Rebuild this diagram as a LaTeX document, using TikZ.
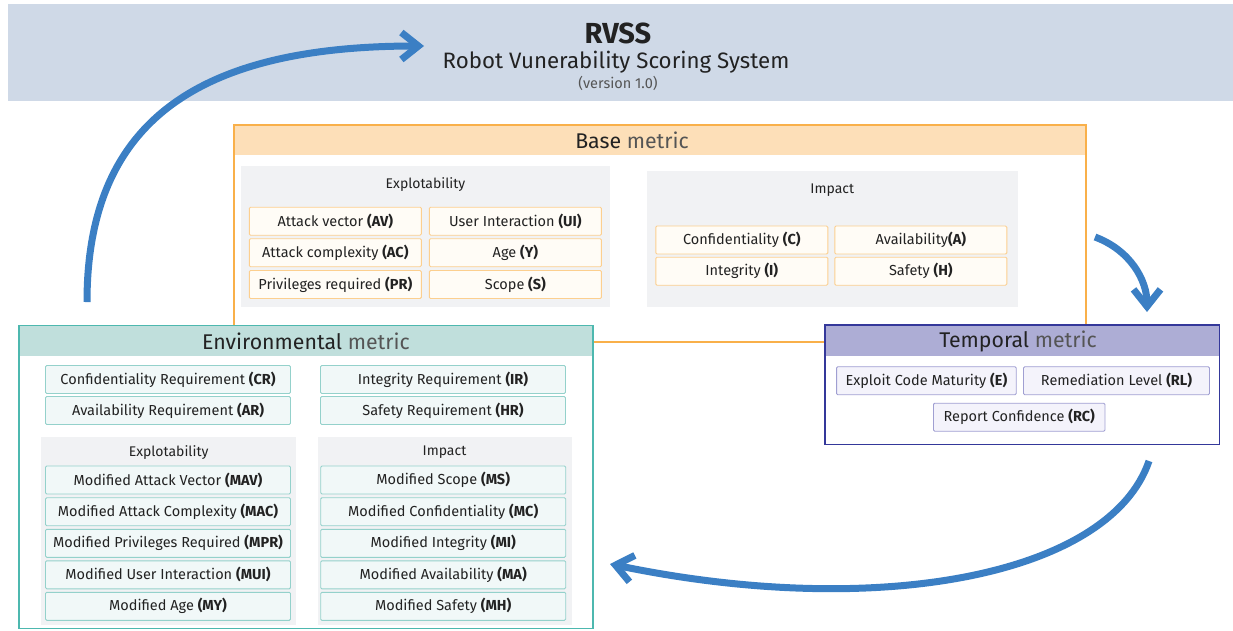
\documentclass[tikz,border=0pt]{standalone}
\usepackage{fontspec}
\setmainfont{Fira Sans}
\usetikzlibrary{arrows.meta}
\definecolor{bandc}{HTML}{CFD9E7}
\definecolor{txt}{HTML}{222222}
\definecolor{mtxt}{HTML}{555555}
\definecolor{panelc}{HTML}{F1F2F4}
\definecolor{bbord}{HTML}{F9B04A}
\definecolor{bhead}{HTML}{FDDFB8}
\definecolor{bcellf}{HTML}{FFFCF6}
\definecolor{bcellb}{HTML}{FCCF8F}
\definecolor{ebord}{HTML}{4DB8AF}
\definecolor{ehead}{HTML}{C0DFDC}
\definecolor{ecellf}{HTML}{F1F8F8}
\definecolor{ecellb}{HTML}{94D1CB}
\definecolor{tbord}{HTML}{34389A}
\definecolor{thead}{HTML}{ADADD5}
\definecolor{tcellf}{HTML}{F4F3FB}
\definecolor{tcellb}{HTML}{A09FD2}
\definecolor{arrowc}{HTML}{3B7FC4}
\begin{document}
\begin{tikzpicture}[x=1pt,y=-1pt,
  every node/.style={inner sep=0pt, outer sep=0pt, text=txt},
  cellbase/.style={line width=0.9pt, rounded corners=1.2pt, minimum height=28pt, font=\fontsize{14.5}{16}\selectfont},
  bcell/.style={cellbase, draw=bcellb, fill=bcellf, minimum width=172pt},
  ecell/.style={cellbase, draw=ecellb, fill=ecellf, minimum width=245pt},
  tcell/.style={cellbase, draw=tcellb, fill=tcellf},
  panel/.style={fill=panelc, draw=none},
  plabel/.style={font=\fontsize{14}{16}\selectfont},
  headtxt/.style={font=\fontsize{21.3}{24}\selectfont},
  bigarrow/.style={draw=arrowc, line width=7pt, -{Straight Barb[length=17pt,width=27pt]}}
]
\useasboundingbox (0,0) rectangle (1233,630);

% title band
\node[fill=bandc, minimum width=1225pt, minimum height=97pt] (band) at (620.5,52.5) {};
\node[font=\fontsize{29}{32}\selectfont\bfseries] (t1) at (618,33) {RVSS};
\node[font=\fontsize{22.3}{25}\selectfont] (t2) at (616,62) {Robot Vunerability Scoring System};
\node[font=\fontsize{14.5}{16}\selectfont, text=mtxt] (t3) at (618,83) {(version 1.0)};

% base metric
\node[draw=bbord, line width=1.5pt, minimum width=852pt, minimum height=217pt] (base) at (660,233.5) {};
\node[fill=bhead, minimum width=850.5pt, minimum height=29pt] (basehd) at (660,140) {};
\node[headtxt] (basettl) at (632,140) {Base \textcolor{mtxt}{metric}};

\node[panel, minimum width=369pt, minimum height=141pt] (bexp) at (425.5,236.5) {};
\node[plabel] (bexpl) at (425.5,185) {Explotability};
\node[bcell] (av) at (335.3,221.2) {Attack vector \textbf{(AV)}};
\node[bcell] (ac) at (335.3,252.7) {Attack complexity \textbf{(AC)}};
\node[bcell] (pr) at (335.3,284.5) {Privileges required \textbf{(PR)}};
\node[bcell] (ui) at (515.4,221.2) {User Interaction \textbf{(UI)}};
\node[bcell] (age) at (515.4,252.7) {Age \textbf{(Y)}};
\node[bcell] (sc) at (515.4,284.5) {Scope \textbf{(S)}};

\node[panel, minimum width=371.5pt, minimum height=136pt] (bimp) at (832.3,239.3) {};
\node[plabel] (bimpl) at (832.3,190) {Impact};
\node[bcell] (conf) at (741.8,240) {Confidentiality \textbf{(C)}};
\node[bcell] (integ) at (741.8,271.2) {Integrity \textbf{(I)}};
\node[bcell] (avail) at (920.8,240) {Availability\textbf{(A)}};
\node[bcell] (saf) at (920.8,271.2) {Safety \textbf{(H)}};

% environmental metric
\node[draw=ebord, fill=white, line width=1.5pt, minimum width=574pt, minimum height=303pt] (env) at (306,477) {};
\node[fill=ehead, minimum width=572.5pt, minimum height=30.5pt] (envhd) at (306,341.2) {};
\node[headtxt] (envttl) at (306,341) {Environmental \textcolor{mtxt}{metric}};
\node[ecell] (cr) at (168,379.5) {Confidentiality Requirement \textbf{(CR)}};
\node[ecell] (ar) at (168,410.5) {Availability Requirement \textbf{(AR)}};
\node[ecell] (ir) at (443,379.5) {Integrity Requirement \textbf{(IR)}};
\node[ecell] (hr) at (443,410.5) {Safety Requirement \textbf{(HR)}};

\node[panel, minimum width=254.3pt, minimum height=188.3pt] (eexp) at (168.6,530.8) {};
\node[plabel] (eexpl) at (168.6,452.3) {Explotability};
\node[ecell] (mav) at (168,480) {Modified Attack Vector \textbf{(MAV)}};
\node[ecell] (mac) at (168,511.7) {Modified Attack Complexity \textbf{(MAC)}};
\node[ecell] (mpr) at (168,543.3) {Modified Privileges Required \textbf{(MPR)}};
\node[ecell] (mui) at (168,574.8) {Modified User Interaction \textbf{(MUI)}};
\node[ecell] (my) at (168,606.3) {Modified Age \textbf{(MY)}};

\node[panel, minimum width=254pt, minimum height=188.3pt] (eimp) at (444.5,530.8) {};
\node[plabel] (eimpl) at (444.5,452.3) {Impact};
\node[ecell] (ms) at (443.2,480) {Modified Scope \textbf{(MS)}};
\node[ecell] (mc) at (443.2,511.7) {Modified Confidentiality \textbf{(MC)}};
\node[ecell] (mi) at (443.2,543.3) {Modified Integrity \textbf{(MI)}};
\node[ecell] (ma) at (443.2,574.8) {Modified Availability \textbf{(MA)}};
\node[ecell] (mh) at (443.2,606.3) {Modified Safety \textbf{(MH)}};

% temporal metric
\node[draw=tbord, fill=white, line width=1.5pt, minimum width=394.7pt, minimum height=119.3pt] (temp) at (1022.35,384.65) {};
\node[fill=thead, minimum width=393.2pt, minimum height=30pt] (temphd) at (1022.35,340.5) {};
\node[headtxt] (tempttl) at (1018,341) {Temporal \textcolor{mtxt}{metric}};
\node[tcell, minimum width=179.6pt] (ecm) at (926.4,380.7) {Exploit Code Maturity \textbf{(E)}};
\node[tcell, minimum width=186pt] (rl) at (1116.5,380.7) {Remediation Level \textbf{(RL)}};
\node[tcell, minimum width=171.5pt] (rc) at (1019.2,417.2) {Report Confidence \textbf{(RC)}};

% cycle arrows
\coordinate (a1s) at (87,302);
\coordinate (a1e) at (424,46);
\coordinate (a2s) at (1095,237);
\coordinate (a2e) at (1147,312);
\coordinate (a3s) at (1149,461);
\coordinate (a3e) at (610,564);
\draw[bigarrow] (a1s) .. controls (87,120) and (200,46) .. (a1e);
\draw[bigarrow] (a2s) .. controls (1130,250) and (1147,280) .. (a2e);
\draw[bigarrow] (a3s) .. controls (1110,575) and (880,620) .. (a3e);
\end{tikzpicture}
\end{document}
